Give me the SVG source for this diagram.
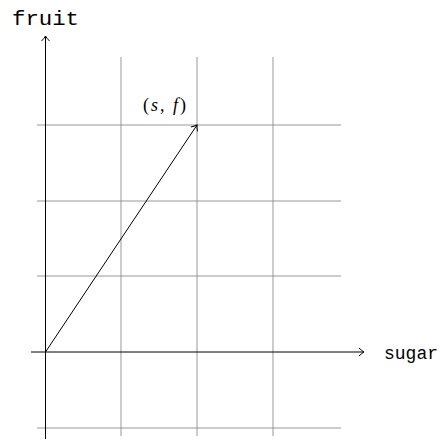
<svg xmlns="http://www.w3.org/2000/svg" width="441" height="440" viewBox="0 0 441 440">
<style>
.grid{stroke:#8c8c8c;stroke-width:0.9;fill:none}
.axis{stroke:#000;stroke-width:1;fill:none}
.mono{font-family:"Liberation Mono","DejaVu Sans Mono",monospace;font-size:21px;fill:#000}
.math{font-family:"Liberation Serif","DejaVu Serif",serif;font-size:18px;fill:#000}
</style>
<defs>
<marker id="arr" viewBox="-6 -5 8 10" markerWidth="8" markerHeight="10" refX="0" refY="0" orient="auto" markerUnits="userSpaceOnUse">
<path d="M-5,-4 Q-2,-1 0,0 Q-2,1 -5,4" fill="none" stroke="#000" stroke-width="1"/>
</marker>
</defs>
<g id="grid">
<line class="grid" x1="121" y1="57" x2="121" y2="436"/>
<line class="grid" x1="197" y1="57" x2="197" y2="436"/>
<line class="grid" x1="273" y1="57" x2="273" y2="436"/>
<line class="grid" x1="37" y1="125" x2="341" y2="125"/>
<line class="grid" x1="37" y1="201" x2="341" y2="201"/>
<line class="grid" x1="37" y1="276" x2="341" y2="276"/>
<line class="grid" x1="37" y1="428" x2="341" y2="428"/>
</g>
<g id="connectors">
<line class="axis" x1="31" y1="352" x2="364" y2="352" marker-end="url(#arr)"/>
<line class="axis" x1="45.5" y1="439" x2="45.5" y2="36" marker-end="url(#arr)"/>
<line class="axis" x1="45.5" y1="352" x2="197" y2="125" marker-end="url(#arr)"/>
</g>
<g id="label-fruit"><text class="mono" x="12" y="25" textLength="67" lengthAdjust="spacingAndGlyphs">fruit</text></g>
<g id="label-sugar"><text class="mono" x="384" y="359" style="font-size:18px">sugar</text></g>
<g id="label-sf"><text class="math" x="143" y="111" textLength="43">(<tspan font-style="italic">s</tspan>, <tspan font-style="italic">f</tspan>)</text></g>
</svg>
